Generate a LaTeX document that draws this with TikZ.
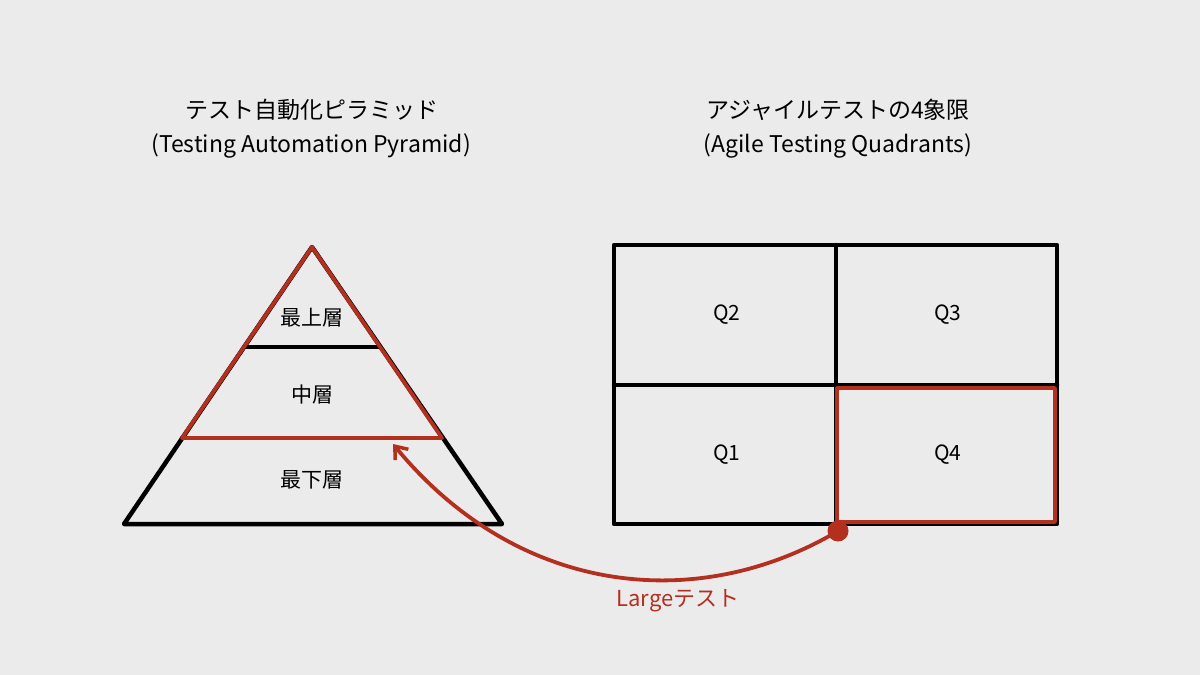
\documentclass[tikz,border=0pt]{standalone}
\usepackage{fontspec}
\setmainfont{Noto Sans CJK JP}
\usetikzlibrary{arrows.meta}
\definecolor{bg}{HTML}{EBEBEB}
\definecolor{accent}{HTML}{B3301F}
\tikzset{
  blk/.style={draw=black,line width=4.5pt,line join=round,line cap=round},
  redline/.style={draw=accent,line width=3.8pt,line join=round,line cap=round},
  lbl/.style={font=\fontsize{21}{24}\selectfont,text=black},
  ttl/.style={font=\fontsize{23}{27}\selectfont,text=black},
}
\begin{document}
\begin{tikzpicture}[x=1pt,y=-1pt]
\useasboundingbox[fill=bg] (0,0) rectangle (1200,675);
% titles
\node[ttl] (t1) at (312,110) {テスト自動化ピラミッド};
\node[ttl] (t1b) at (311,146) {(Testing Automation Pyramid)};
\node[ttl] (t2) at (838,110) {アジャイルテストの4象限};
\node[ttl] (t2b) at (838,146) {(Agile Testing Quadrants)};
% pyramid
\coordinate (apex) at (312,247);
\coordinate (bl) at (124,524);
\coordinate (br) at (502,524);
\coordinate (ml) at (182,438);
\coordinate (mr) at (442,438);
\coordinate (tl) at (244,347);
\coordinate (tr) at (380,347);
\draw[blk] (apex) -- (bl) -- (br) -- cycle;
\draw[blk] (tl) -- (tr);
\draw[blk] (ml) -- (mr);
\draw[redline] (apex) -- (ml) -- (mr) -- cycle;
\node[lbl] (top) at (312,318) {最上層};
\node[lbl] (mid) at (312,395) {中層};
\node[lbl] (bot) at (312,480) {最下層};
% quadrants
\draw[blk] (614,245) rectangle (1057,524);
\draw[blk] (836,245) -- (836,524);
\draw[blk] (614,385) -- (1057,385);
\draw[redline] (837,388) rectangle (1055,522);
\node[lbl] (q2) at (727,315) {Q2};
\node[lbl] (q3) at (948,315) {Q3};
\node[lbl] (q1) at (727,455) {Q1};
\node[lbl] (q4) at (948,455) {Q4};
% connector
\node[circle,fill=accent,inner sep=0pt,minimum size=21pt] (dot) at (838,531) {};
\coordinate (tip) at (393,444);
\draw[redline,-{Straight Barb[length=11pt,width=17pt,line width=3.5pt]}] (dot.center) .. controls (700,613) and (520,598) .. (tip);
\node[font=\fontsize{22}{26}\selectfont,text=accent] (large) at (678,601) {Largeテスト};
\end{tikzpicture}
\end{document}
